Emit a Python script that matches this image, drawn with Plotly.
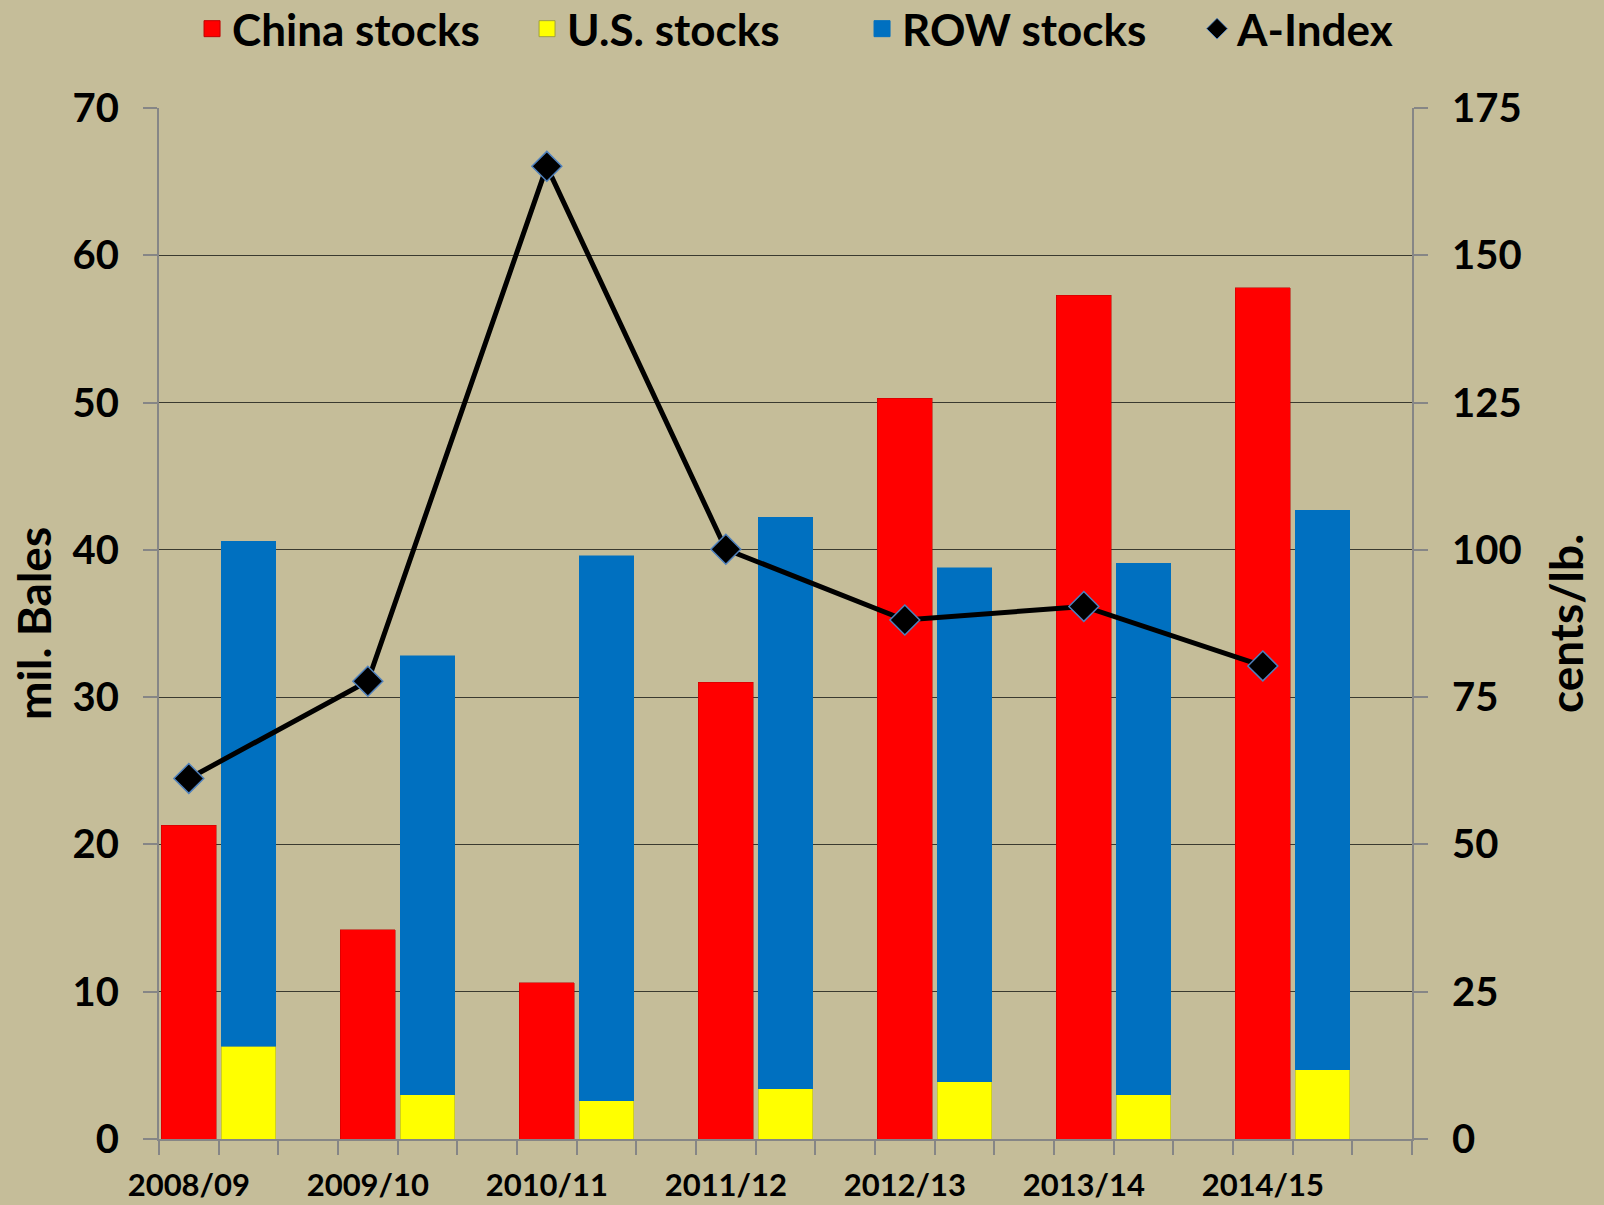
import plotly.graph_objects as go

seasons = ["2008/09", "2009/10", "2010/11", "2011/12", "2012/13", "2013/14", "2014/15"]
china_stocks = [21.3, 14.2, 10.6, 31.0, 50.3, 57.3, 57.8]
us_stocks = [6.3, 3.0, 2.6, 3.4, 3.9, 3.0, 4.7]
row_stocks = [34.3, 29.8, 37.0, 38.8, 34.9, 36.1, 38.0]
a_index = [61.2, 77.7, 165.1, 100.1, 88.1, 90.4, 80.3]

x_china = [3 * i for i in range(len(seasons))]
x_stack = [3 * i + 1 for i in range(len(seasons))]

BG = "#C5BD99"
RED, YELLOW, BLUE = "#FF0000", "#FFFF00", "#0070C0"
FONT = dict(family="Lato, 'Open Sans', sans-serif", color="black", weight="bold")

fig = go.Figure()
fig.add_trace(go.Bar(name="China stocks", x=x_china, y=china_stocks, showlegend=False,
                     marker=dict(color=RED, line=dict(color="#C00000", width=0.5))))
fig.add_trace(go.Bar(name="U.S. stocks", x=x_stack, y=us_stocks, showlegend=False,
                     marker=dict(color=YELLOW, line=dict(color="#A0A040", width=0.5))))
fig.add_trace(go.Bar(name="ROW stocks", x=x_stack, y=row_stocks, showlegend=False,
                     marker=dict(color=BLUE, line=dict(color=BLUE, width=0.5))))
fig.add_trace(go.Scatter(name="A-Index", x=x_china, y=a_index, yaxis="y2",
                         mode="lines+markers", showlegend=False,
                         line=dict(color="black", width=5),
                         marker=dict(symbol="diamond", size=23, color="black",
                                     line=dict(color="#4F81BD", width=1.5))))

# legend entries (square swatches like the original legend)
for name, col, sym, lc in [("China stocks", RED, "square", "#C00000"),
                           ("U.S. stocks", YELLOW, "square", "#A0A040"),
                           ("ROW stocks", BLUE, "square", BLUE),
                           ("A-Index", "black", "diamond", "#4F81BD")]:
    fig.add_trace(go.Scatter(name=name, x=[None], y=[None], mode="markers",
                             marker=dict(symbol=sym, size=16, color=col,
                                         line=dict(color=lc, width=1))))

fig.update_layout(
    width=1604, height=1205,
    paper_bgcolor=BG, plot_bgcolor=BG,
    barmode="stack", bargap=0.08,
    margin=dict(l=159, r=192, t=108, b=66, autoexpand=False),
    font=dict(size=34, **FONT),
    showlegend=True,
    legend=dict(orientation="h", x=1.0958, xanchor="right", xref="paper",
                y=1.111, yanchor="top", bgcolor="rgba(0,0,0,0)",
                font=dict(size=44, **FONT), itemsizing="trace",
                traceorder="normal", itemwidth=30,
                entrywidth=290, entrywidthmode="pixels"),
    xaxis=dict(range=[-0.5, 20.5], tickmode="array", tickvals=x_china, ticktext=seasons,
               ticks="", showline=True, linecolor="#868686", linewidth=2,
               showgrid=False, zeroline=False, tickangle=0, automargin=False,
               tickfont=dict(size=31, **FONT), ticklabelstandoff=18,
               minor=dict(ticks="outside", ticklen=14, tickcolor="#868686", tickwidth=2,
                          tick0=-0.5, dtick=1, showgrid=False)),
    yaxis=dict(range=[0, 70], dtick=10, showgrid=True, gridcolor="#3A3A30", gridwidth=1.2,
               showline=True, linecolor="#868686", linewidth=2, zeroline=False,
               automargin=False,
               ticks="outside", ticklen=14, tickcolor="#868686", tickwidth=2,
               tickfont=dict(size=40, **FONT), ticklabelstandoff=16,
               title=dict(text="mil. Bales", font=dict(size=46, **FONT), standoff=6)),
    yaxis2=dict(range=[0, 175], dtick=25, overlaying="y", side="right", showgrid=False,
                showline=True, linecolor="#868686", linewidth=2, zeroline=False,
                automargin=False,
                ticks="outside", ticklen=14, tickcolor="#868686", tickwidth=2,
                tickfont=dict(size=40, **FONT), ticklabelstandoff=16,
                title=dict(text="cents/lb.", font=dict(size=46, **FONT), standoff=30)),
)

fig.write_html("out.html", config={"displayModeBar": False},
               post_script="document.body.style.margin='0';document.body.style.background='#C5BD99';")
